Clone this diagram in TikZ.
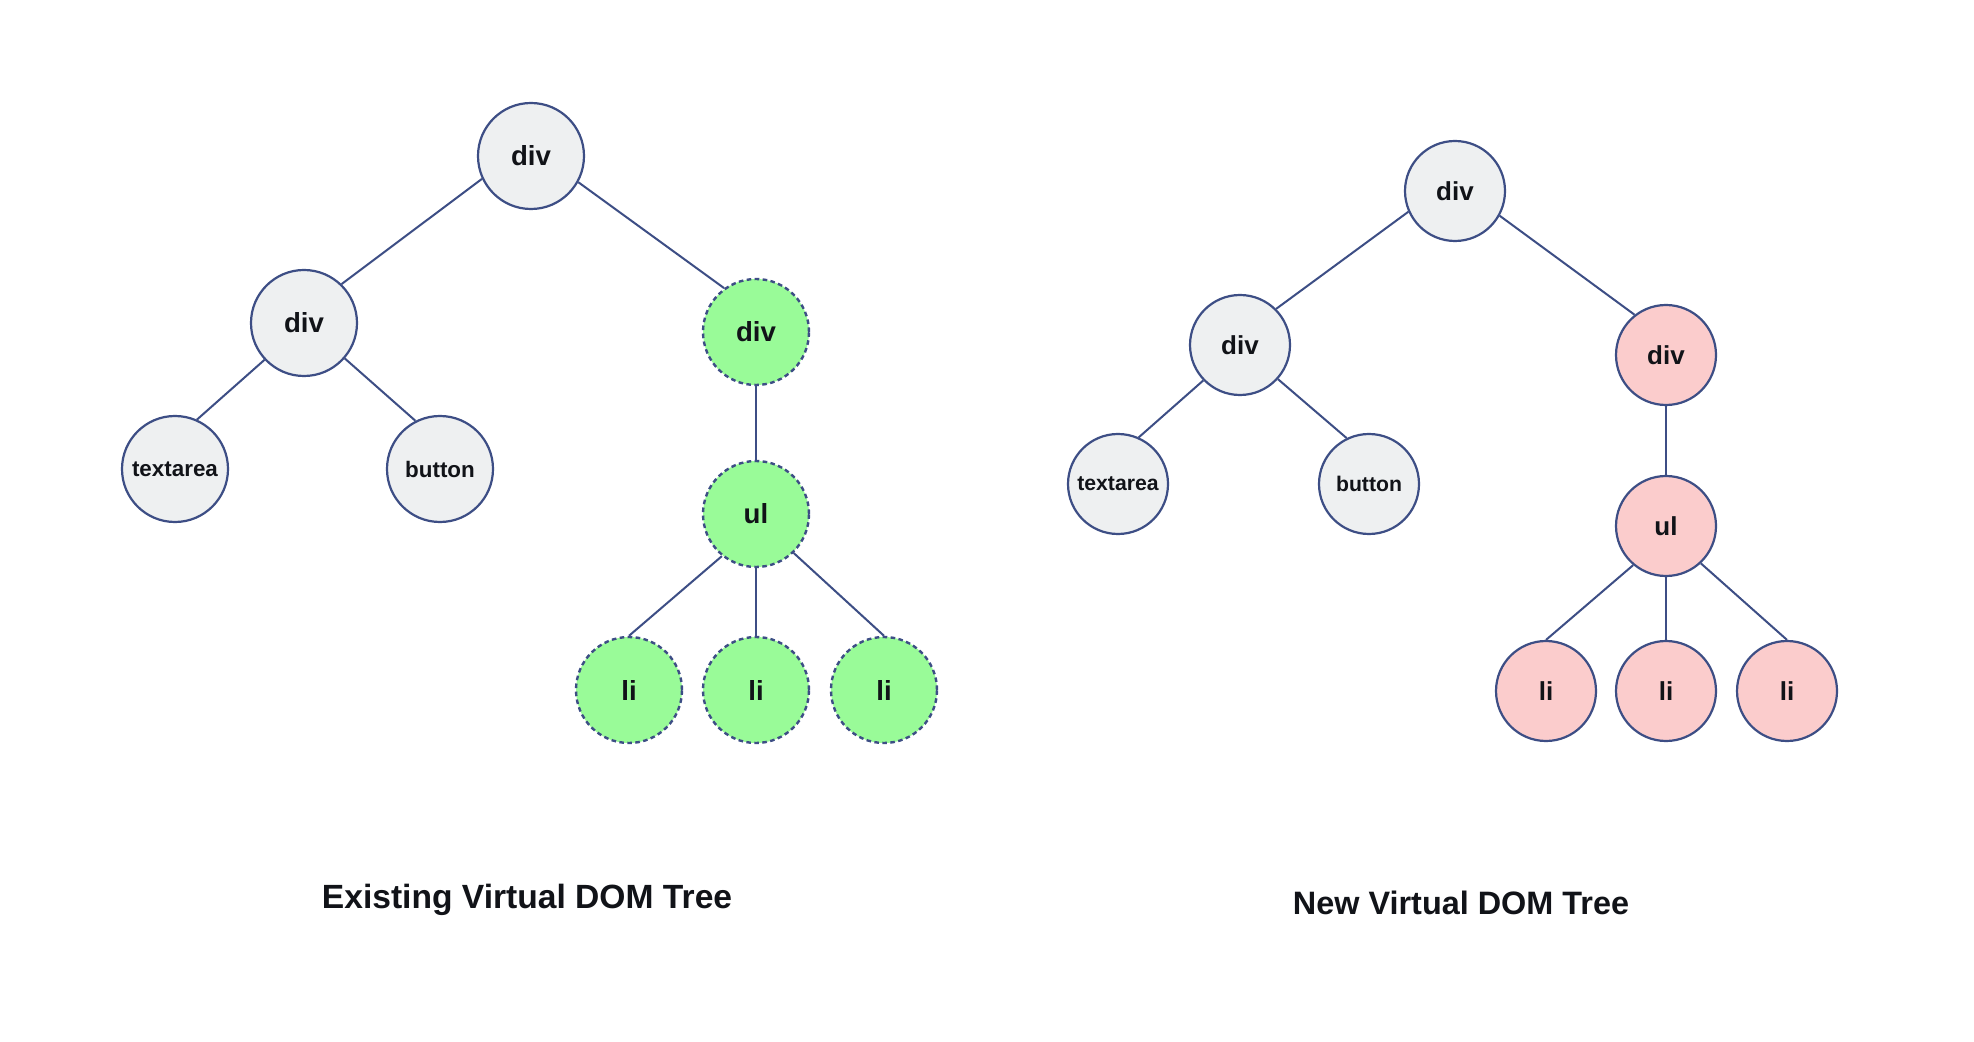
\documentclass[tikz,border=0pt]{standalone}
\usepackage{fontspec}
\setmainfont{Liberation Sans}
\usepackage{tikz}
\usetikzlibrary{positioning}
\definecolor{edgeblue}{HTML}{3D4E85}
\definecolor{oldgrey}{HTML}{EEF0F1}
\definecolor{addgreen}{HTML}{99FB98}
\definecolor{newpink}{HTML}{FBCCCC}
\definecolor{textdark}{HTML}{111318}

\begin{document}
\begin{tikzpicture}[x=0.5pt,y=-0.5pt,
    domnode/.style={circle,draw=edgeblue,line width=1.1pt,fill=oldgrey,text=textdark,font=\bfseries\fontsize{13.8}{15}\selectfont,inner sep=0pt,minimum size=53pt},
    smalltag/.style={font=\bfseries\fontsize{11.2}{13}\selectfont},
    addednode/.style={domnode,fill=addgreen,line width=1.2pt,dash pattern=on 2.3pt off 1.7pt},
    newnode/.style={domnode,minimum size=50pt,font=\bfseries\fontsize{13}{15}\selectfont},
    changednode/.style={newnode,fill=newpink},
    treetitle/.style={text=textdark,font=\bfseries\fontsize{16.8}{19}\selectfont},
    link/.style={draw=edgeblue,line width=1pt}]
    \useasboundingbox[fill=white] (0,0) rectangle (1974,1042);

    % Existing Virtual DOM Tree
    \node[domnode] (oroot) at (531,156) {div};
    \node[domnode] (odiv) at (304,323) {div};
    \node[addednode] (odivb) at (756,332) {div};
    \node[domnode,smalltag] (otext) at (175,469) {textarea};
    \node[domnode,smalltag] (obutton) at (440,469) {button};
    \node[addednode] (oul) at (756,514) {ul};
    \node[addednode] (olia) at (629,690) {li};
    \node[addednode] (olib) at (756,690) {li};
    \node[addednode] (olic) at (884,690) {li};
    \node[treetitle] (otitle) at (527,900) {Existing Virtual DOM Tree};

    \draw[link] (oroot.205) -- (odiv.46);
    \draw[link] (oroot.331) -- (odivb.126);
    \draw[link] (odiv.223) -- (otext.66);
    \draw[link] (odiv.319) -- (obutton.117);
    \draw[link] (odivb.south) -- (oul.north);
    \draw[link] (oul.231) -- (olia.north);
    \draw[link] (oul.south) -- (olib.north);
    \draw[link] (oul.314) -- (olic.north);

    % New Virtual DOM Tree
    \node[newnode] (nroot) at (1455,191) {div};
    \node[newnode] (ndiv) at (1240,345) {div};
    \node[changednode] (ndivb) at (1666,355) {div};
    \node[newnode,font=\bfseries\fontsize{10.6}{12}\selectfont] (ntext) at (1118,484) {textarea};
    \node[newnode,font=\bfseries\fontsize{10.6}{12}\selectfont] (nbutton) at (1369,484) {button};
    \node[changednode] (nul) at (1666,526) {ul};
    \node[changednode] (nlia) at (1546,691) {li};
    \node[changednode] (nlib) at (1666,691) {li};
    \node[changednode] (nlic) at (1787,691) {li};
    \node[treetitle,font=\bfseries\fontsize{16.2}{19}\selectfont] (ntitle) at (1461,903) {New Virtual DOM Tree};

    \draw[link] (nroot.204) -- (ndiv.45);
    \draw[link] (nroot.331) -- (ndivb.128);
    \draw[link] (ndiv.224) -- (ntext.66);
    \draw[link] (ndiv.318) -- (nbutton.116);
    \draw[link] (ndivb.south) -- (nul.north);
    \draw[link] (nul.230) -- (nlia.north);
    \draw[link] (nul.south) -- (nlib.north);
    \draw[link] (nul.313) -- (nlic.north);
\end{tikzpicture}
\end{document}
